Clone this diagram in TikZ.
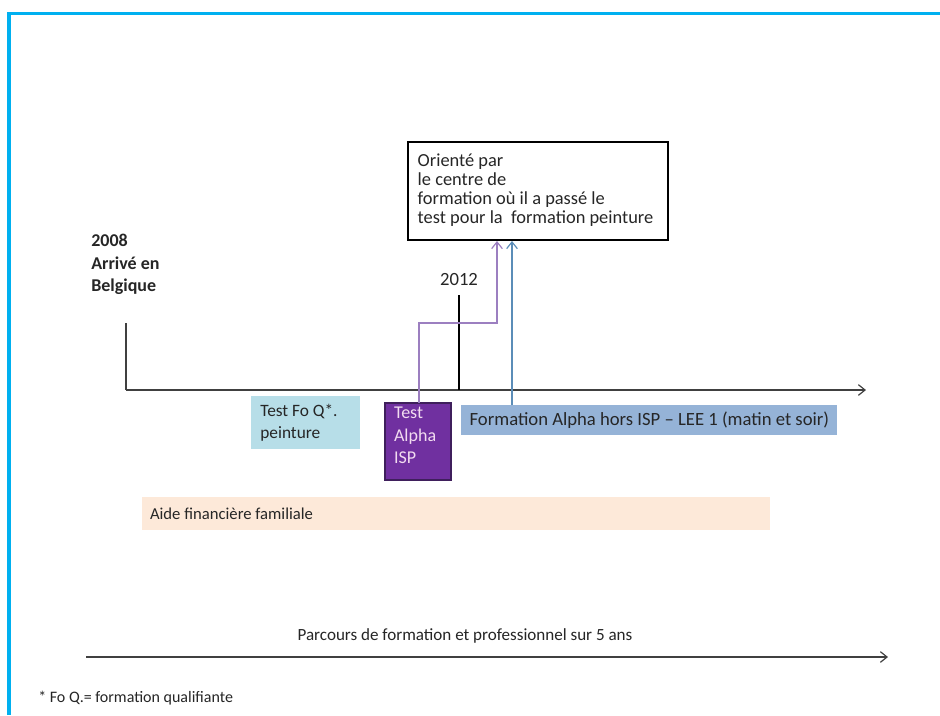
\documentclass[tikz,border=0pt]{standalone}
\usepackage{fontspec}
\setmainfont{Carlito}
\usetikzlibrary{arrows.meta}
\definecolor{frameblue}{HTML}{00B0F0}
\definecolor{axisgray}{HTML}{404040}
\definecolor{testblue}{HTML}{B7DEE8}
\definecolor{alphapurple}{HTML}{7030A0}
\definecolor{alphaedge}{HTML}{3F1F5C}
\definecolor{alphatext}{HTML}{F2DCF0}
\definecolor{leeblue}{HTML}{95B3D7}
\definecolor{aidepeach}{HTML}{FDE9D9}
\definecolor{linkpurple}{HTML}{9C7FC0}
\definecolor{linkblue}{HTML}{5B8DB8}
\begin{document}
\begin{tikzpicture}[x=0.75pt,y=-0.75pt,
  every node/.style={font=\fontsize{12}{14.4}\selectfont, inner sep=0pt, text=black!85},
  lines/.style={align=left},
  panel/.style={rectangle},
  axisline/.style={draw=axisgray, line width=1.1pt},
  tip/.style={-{Straight Barb[length=5pt, width=8pt, line width=0.9pt]}},
  link/.style={line width=0.9pt, tip}]
\useasboundingbox (0,0) rectangle (940,715);
\fill[white] (0,0) rectangle (940,715);
% frame along the top and left edges
\draw[frameblue, line width=2.6pt] (9,715) -- (9,13.5) -- (940,13.5);

% time axis
\coordinate (axisL) at (126,390);
\coordinate (axisR) at (866,390);
\coordinate (tickTop) at (126,323);
\draw[axisline, tip] (axisL) -- (axisR);
\draw[axisline] (tickTop) -- (axisL);

% arrival in 2008
\node[lines, anchor=north west, font=\bfseries\fontsize{13.5}{16.9}\selectfont] (arrival) at (91,234)
  {2008\\Arrivé en\\Belgique};

% orientation box
\node[panel, draw=black, line width=0.8pt, minimum width=260*0.75pt,
  minimum height=98*0.75pt] (orient) at (538,191) {};
\node[lines, anchor=west, font=\fontsize{13.8}{14.25}\selectfont] (orienttxt)
  at ([xshift=7.5pt, yshift=0.5pt]orient.west)
  {Orienté par\\le centre de\\formation où il a passé le\\test pour la \ formation peinture};

% 2012 marker
\node[font=\fontsize{14}{16}\selectfont] (year12) at (459,280) {2012};
\coordinate (y12top) at (459,295);
\coordinate (y12axis) at (459,390);
\draw[line width=0.8pt] (y12top) -- (y12axis);

% boxes under the axis
\node[panel, fill=testblue, minimum width=109*0.75pt, minimum height=53*0.75pt] (testfoq) at (305.5,422.5) {};
\node[lines, anchor=west, font=\fontsize{13}{16.5}\selectfont] (testfoqtxt)
  at ([xshift=7pt]testfoq.west) {Test Fo Q*.\\peinture};

\node[panel, fill=alphapurple, draw=alphaedge, line width=0.8pt,
  minimum width=66*0.75pt, minimum height=77*0.75pt] (alpha) at (418,441.5) {};
\node[lines, anchor=west, text=alphatext, font=\fontsize{13.5}{16.9}\selectfont] (alphatxt)
  at ([xshift=7pt, yshift=4.5pt]alpha.west) {Test\\Alpha\\ISP};

\node[panel, fill=leeblue, minimum width=376*0.75pt, minimum height=30*0.75pt] (lee) at (649,420) {};
\node[anchor=west, font=\fontsize{14}{16}\selectfont] (leetxt)
  at ([xshift=6.5pt]lee.west) {Formation Alpha hors ISP – LEE 1 (matin et soir)};

\node[panel, fill=aidepeach, minimum width=628*0.75pt, minimum height=33*0.75pt] (aide) at (456,513.5) {};
\node[anchor=west, font=\fontsize{12.5}{15}\selectfont] (aidetxt)
  at ([xshift=6pt]aide.west) {Aide financière familiale};

% connectors toward the orientation box
\coordinate (alphaOut) at (419,403);
\coordinate (bendA) at (419,323);
\coordinate (bendB) at (497,323);
\coordinate (orientInA) at (497,241);
\draw[link, linkpurple] (alphaOut) -- (bendA) -- (bendB) -- (orientInA);
\coordinate (leeOut) at (512,405);
\coordinate (orientInB) at (512,241);
\draw[link, linkblue] (leeOut) -- (orientInB);

% overall span
\coordinate (spanL) at (86,657);
\coordinate (spanR) at (888,657);
\draw[axisline, line width=0.9pt, tip] (spanL) -- (spanR);
\node[font=\fontsize{12.8}{15}\selectfont] (span) at (465,636) {Parcours de formation et professionnel sur 5 ans};

% footnote
\node[anchor=west] (note) at (38,698) {* Fo Q.= formation qualifiante};
\end{tikzpicture}
\end{document}
